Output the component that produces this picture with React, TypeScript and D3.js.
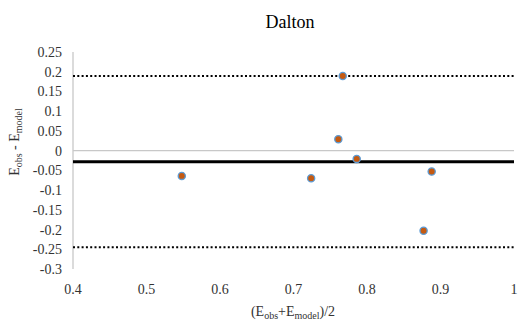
import React, { useEffect, useRef } from 'react';
import * as d3 from 'd3';

// Bland-Altman points: mean of obs+model vs difference
const meanValues = [0.548, 0.767, 0.761, 0.786, 0.724, 0.888, 0.877];
const diffValues = [-0.064, 0.189, 0.029, -0.021, -0.070, -0.053, -0.203];
const biasValue = -0.028;
const upperLimit = 0.189;
const lowerLimit = -0.245;
const xTicks = [0.4, 0.5, 0.6, 0.7, 0.8, 0.9, 1];
const yTicks = [0.25, 0.2, 0.15, 0.1, 0.05, 0, -0.05, -0.1, -0.15, -0.2, -0.25, -0.3];

const width = 520;
const height = 322;
const serif = "'Liberation Serif', 'DejaVu Serif', serif";

const App = () => {
  const svgRef = useRef<SVGSVGElement | null>(null);

  useEffect(() => {
    if (!svgRef.current) return;
    const svg = d3.select(svgRef.current);
    svg.selectAll('*').remove();

    const x = d3.scaleLinear().domain([0.4, 1]).range([73, 514]);
    const y = d3.scaleLinear().domain([-0.3, 0.25]).range([269, 52]);

    // title
    svg.append('text')
      .attr('x', 290)
      .attr('y', 28)
      .attr('text-anchor', 'middle')
      .style('font-family', serif)
      .style('font-size', '18px')
      .attr('fill', '#000')
      .text('Dalton');

    // zero line
    svg.append('line')
      .attr('x1', x(0.4)).attr('x2', x(1))
      .attr('y1', y(0)).attr('y2', y(0))
      .attr('stroke', '#c8c8c8')
      .attr('stroke-width', 1.3);

    // y axis line
    svg.append('line')
      .attr('x1', x(0.4)).attr('x2', x(0.4))
      .attr('y1', y(0.25)).attr('y2', y(-0.3))
      .attr('stroke', '#c8c8c8')
      .attr('stroke-width', 1.3);

    // y tick labels
    svg.append('g')
      .selectAll('text')
      .data(yTicks)
      .join('text')
      .attr('x', 62)
      .attr('y', d => y(d) + 5)
      .attr('text-anchor', 'end')
      .style('font-family', serif)
      .style('font-size', '14px')
      .attr('fill', '#333')
      .text(d => String(d));

    // x tick labels
    svg.append('g')
      .selectAll('text')
      .data(xTicks)
      .join('text')
      .attr('x', d => x(d))
      .attr('y', 294)
      .attr('text-anchor', 'middle')
      .style('font-family', serif)
      .style('font-size', '14px')
      .attr('fill', '#333')
      .text(d => String(d));

    // limits of agreement
    [upperLimit, lowerLimit].forEach(v => {
      svg.append('line')
        .attr('x1', x(0.4)).attr('x2', x(1))
        .attr('y1', y(v)).attr('y2', y(v))
        .attr('stroke', '#000')
        .attr('stroke-width', 2)
        .attr('stroke-dasharray', '2,2.3');
    });

    // bias
    svg.append('line')
      .attr('x1', x(0.4)).attr('x2', x(1))
      .attr('y1', y(biasValue)).attr('y2', y(biasValue))
      .attr('stroke', '#000')
      .attr('stroke-width', 3);

    // points
    svg.append('g')
      .selectAll('circle')
      .data(meanValues.map((m, i) => ({ m, d: diffValues[i] })))
      .join('circle')
      .attr('cx', p => x(p.m))
      .attr('cy', p => y(p.d))
      .attr('r', 3.6)
      .attr('fill', '#c55a11')
      .attr('stroke', '#5b9bd5')
      .attr('stroke-width', 1.3);

    // x axis title
    const xt = svg.append('text')
      .attr('x', 293)
      .attr('y', 316)
      .attr('text-anchor', 'middle')
      .style('font-family', serif)
      .style('font-size', '14px')
      .attr('fill', '#333');
    xt.append('tspan').text('(E');
    xt.append('tspan').style('font-size', '10px').attr('dy', 3).text('obs');
    xt.append('tspan').attr('dy', -3).text('+E');
    xt.append('tspan').style('font-size', '10px').attr('dy', 3).text('model');
    xt.append('tspan').attr('dy', -3).text(')/2');

    // y axis title
    const yt = svg.append('text')
      .attr('transform', 'translate(19, 142) rotate(-90)')
      .attr('text-anchor', 'middle')
      .style('font-family', serif)
      .style('font-size', '14px')
      .attr('fill', '#333');
    yt.append('tspan').text('E');
    yt.append('tspan').style('font-size', '10px').attr('dy', 3).text('obs');
    yt.append('tspan').attr('dy', -3).text(' - E');
    yt.append('tspan').style('font-size', '10px').attr('dy', 3).text('model');
  }, []);

  return (
    <svg
      ref={svgRef}
      width={width}
      height={height}
      style={{ position: 'absolute', left: 0, top: 0, background: '#fff' }}
    />
  );
};

export default App;
